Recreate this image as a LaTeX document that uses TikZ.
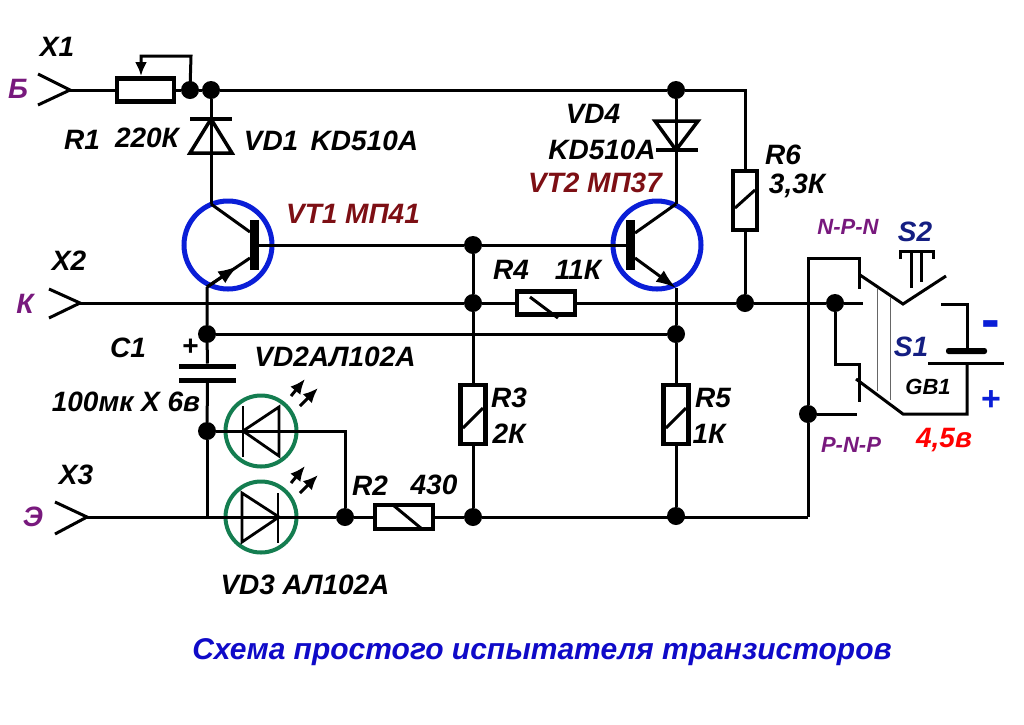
\documentclass[tikz,border=0pt]{standalone}
\usepackage{fontspec}
\setmainfont{Liberation Sans}
\usetikzlibrary{arrows.meta}
\definecolor{labpurple}{RGB}{120,25,125}
\definecolor{labred}{RGB}{125,15,20}
\definecolor{labnavy}{RGB}{20,30,130}
\definecolor{ringblue}{RGB}{10,30,215}
\definecolor{ringgreen}{RGB}{20,125,80}
\definecolor{titleblue}{RGB}{15,10,200}
\begin{document}
\begin{tikzpicture}[x=1pt, y=-1pt,
    wire/.style={line width=3pt},
    part/.style={line width=3.5pt, line join=miter},
    res/.style={draw, line width=4.5pt, fill=white, inner sep=0pt, outer sep=0pt},
    dot/.style={circle, fill=black, inner sep=0pt, minimum size=18pt},
    bar/.style={fill=black, inner sep=0pt, outer sep=0pt},
    ring/.style={circle, draw=ringblue, line width=5pt, inner sep=0pt, minimum size=88pt},
    led/.style={circle, draw=ringgreen, line width=4pt, inner sep=0pt, minimum size=71pt},
    tip/.style={line width=3pt, -{Latex[length=20pt, width=14pt]}},
    glow/.style={line width=3pt, -{Latex[length=15pt, width=13pt]}},
    lab/.style={font=\fontsize{28}{30}\selectfont\bfseries\itshape, inner sep=0pt},
    small/.style={font=\fontsize{22}{24}\selectfont\bfseries\itshape, inner sep=0pt},
    link/.style={line width=0.8pt, draw=black!60}]

\useasboundingbox (0,0) rectangle (1024,724);

% terminals
\coordinate (tipB) at (70,90);
\coordinate (tipK) at (80,303);
\coordinate (tipE) at (87,517);
\draw[wire] (38,74) -- (tipB) -- (38,105);
\draw[wire] (49,289) -- (tipK) -- (49,318);
\draw[wire] (55,502) -- (tipE) -- (55,534);

% resistors
\node[res, minimum width=57pt, minimum height=23pt] (Rone) at (145.5,90) {};
\node[res, minimum width=58pt, minimum height=24pt] (Rtwo) at (404,517) {};
\node[res, minimum width=25pt, minimum height=59pt] (Rthree) at (473,414.5) {};
\node[res, minimum width=58pt, minimum height=23pt] (Rfour) at (546,303) {};
\node[res, minimum width=25pt, minimum height=59pt] (Rfive) at (676,414.5) {};
\node[res, minimum width=24pt, minimum height=59pt] (Rsix) at (745,200.5) {};

% junctions
\node[dot] (dotwiper) at (190,90) {};
\node[dot] (dotB) at (211,90) {};
\node[dot] (dotVDfour) at (676,90) {};
\node[dot] (dotbase) at (473,245) {};
\node[dot] (dotKthree) at (473,303) {};
\node[dot] (dotKsix) at (745,303) {};
\node[dot] (dotC) at (207,334) {};
\node[dot] (dotCfive) at (676,334) {};
\node[dot] (dotL) at (207,431) {};
\node[dot] (dotR) at (345,517) {};
\node[dot] (dotEthree) at (473,517) {};
\node[dot] (dotEfive) at (676,516) {};
\node[dot] (dotN) at (835,303) {};
\node[dot] (dotP) at (808,414) {};

% transistors
\node[ring] (VTone) at (228,245) {};
\node[ring] (VTtwo) at (657,245) {};
\node[bar, minimum width=9pt, minimum height=50pt] (VTonebar) at (254.5,245) {};
\node[bar, minimum width=9pt, minimum height=50pt] (VTtwobar) at (630.5,245) {};
\coordinate (VToneC) at (211,204);
\coordinate (VToneE) at (207,287);
\coordinate (VToneb) at (250,258);
\coordinate (VTonea) at (250,232);
\coordinate (VTtwoC) at (676,204);
\coordinate (VTtwoE) at (676,288);
\coordinate (VTtwoa) at (635,233);
\coordinate (VTtwob) at (635,258);
\draw[wire] (VToneC) -- (VTonea);
\draw[wire] (VToneb) -- (VToneE);
\draw[tip] (VToneE) -- (238,266);
\draw[wire] (VTtwoa) -- (VTtwoC);
\draw[tip] (VTtwob) -- (VTtwoE);

% capacitor
\node[bar, minimum width=57pt, minimum height=5pt] (Cplus) at (207.5,366) {};
\node[bar, minimum width=57pt, minimum height=5pt] (Cminus) at (207.5,380) {};

% diodes
\coordinate (VDoneK) at (211,119);
\coordinate (VDfourK) at (676,150);
\draw[wire] (dotB) -- (VToneC);
\draw[part] (190,119) -- (232,119);
\draw[part] (190,153) -- (232,153) -- (VDoneK) -- cycle;
\draw[wire] (dotVDfour) -- (VTtwoC);
\draw[part] (656,150) -- (698,150);
\draw[part] (655,121) -- (698,121) -- (VDfourK) -- cycle;

% leds
\node[led] (VDtwo) at (261,431) {};
\node[led] (VDthree) at (261,517) {};
\coordinate (VDtwoA) at (243,431);
\coordinate (VDthreeK) at (279,517);
\draw[part, line width=2.8pt] (243,406) -- (243,457);
\draw[part, line width=2.8pt] (279,407) -- (279,456) -- (VDtwoA) -- cycle;
\draw[part, line width=2.8pt] (278,493) -- (278,543);
\draw[part, line width=2.8pt] (242,493) -- (242,542) -- (VDthreeK) -- cycle;
\foreach \i in {0,87} {
    \draw[glow] (291,396+\i) -- (305,379+\i);
    \draw[glow] (300,406+\i) -- (318,388+\i);
}

% wiring
\draw[wire] (tipB) -- (Rone);
\draw[wire] (Rone) -- (dotwiper) -- (dotB) -- (dotVDfour);
\draw[wire] (dotVDfour) -- (745,90) -- (Rsix.north);
\draw[wire] (Rsix.south) -- (dotKsix);
\draw[tip, -{Latex[length=14pt, width=12pt]}] (dotwiper.center) -- (191,56) -- (141,56) -- (141,76);
\draw[wire] (VTonebar) -- (dotbase) -- (VTtwobar);
\draw[wire] (tipK) -- (dotKthree) -- (Rfour);
\draw[wire] (Rfour) -- (dotKsix) -- (dotN) -- (863,303);
\draw[wire] (dotbase) -- (dotKthree) -- (Rthree.north);
\draw[wire] (Rthree.south) -- (dotEthree);
\draw[wire] (VToneE) -- (dotC) -- (Cplus);
\draw[wire] (dotC) -- (dotCfive);
\draw[wire] (VTtwoE) -- (dotCfive) -- (Rfive.north);
\draw[wire] (Rfive.south) -- (dotEfive);
\draw[wire] (Cminus) -- (dotL);
\draw[wire] (dotL) -- (207,517);
\draw[wire] (dotL) -- (345,431) -- (dotR);
\draw[wire] (tipE) -- (dotR) -- (Rtwo);
\draw[wire] (Rtwo) -- (dotEthree) -- (808,517);
\draw[wire] (808,517) -- (dotP) -- (808,258) -- (859,258) -- (859,289);
\draw[wire] (dotP) -- (857,414);
\draw[wire] (dotN) -- (835,364) -- (859,364) -- (859,402);

% slanted marks in the resistors
\draw[wire] (393,505) -- (422,529);
\draw[wire] (530,297) -- (558,318);
\draw[wire] (463,428) -- (483,408);
\draw[wire] (666,428) -- (686,408);
\draw[wire] (735,208) -- (755,190);

% switches and battery
\draw[wire] (860,275) -- (903,304) -- (946,276);
\draw[wire] (856,379) -- (903,414) -- (967,414) -- (967,363);
\draw[wire] (941,304) -- (967,304) -- (967,351);
\node[bar, rounded corners=2.5pt, minimum width=41pt, minimum height=6pt] (GBminus) at (966.5,351) {};
\node[bar, minimum width=76pt, minimum height=3pt] (GBplus) at (966,363) {};
\draw[link] (877,289) -- (877,391);
\draw[link] (890,297) -- (890,400);
\draw[wire] (900,259) -- (900,251) -- (933,251) -- (933,259);
\draw[wire] (911,251) -- (911,288);
\draw[wire] (921,251) -- (921,282);

% labels
\node[lab] (labXone) at (57,47) {X1};
\node[lab] (labXtwo) at (69,261) {X2};
\node[lab] (labXthree) at (76,475) {X3};
\node[lab, text=labpurple] (labB) at (18,89) {Б};
\node[lab, text=labpurple] (labK) at (25,304) {К};
\node[lab, text=labpurple] (labE) at (33,517) {Э};
\node[lab] (labRone) at (82,140) {R1};
\node[lab] (labRoneval) at (147,138) {220К};
\node[lab] (labVDone) at (331,141) {VD1\, KD510A};
\node[lab, text=labred] (labVTone) at (353,214) {VT1 МП41};
\node[lab] (labVDfour) at (593,114) {VD4};
\node[lab] (labVDfourval) at (602,150) {KD510A};
\node[lab, text=labred] (labVTtwo) at (595,183) {VT2 МП37};
\node[lab] (labRfour) at (511,270) {R4};
\node[lab] (labRfourval) at (578,270) {11К};
\node[lab] (labRsix) at (783,155) {R6};
\node[lab] (labRsixval) at (797,186) {3,3К};
\node[lab] (labCone) at (128,348) {C1};
\node[lab] (labCplus) at (190,347) {+};
\node[lab] (labCval) at (126,402) {100мк X 6в};
\node[lab] (labVDtwo) at (335,357) {VD2АЛ102А};
\node[lab] (labVDthree) at (305,585) {VD3 АЛ102А};
\node[lab] (labRtwo) at (370,486) {R2};
\node[lab] (labRtwoval) at (434,485) {430};
\node[lab] (labRthree) at (509,398) {R3};
\node[lab] (labRthreeval) at (509,434) {2К};
\node[lab] (labRfive) at (713,398) {R5};
\node[lab] (labRfiveval) at (709,434) {1К};
\node[small, text=labpurple] (labNPN) at (848,227) {N-P-N};
\node[small, text=labpurple] (labPNP) at (851,445) {P-N-P};
\node[lab, text=labnavy] (labStwo) at (915,232) {S2};
\node[lab, text=labnavy] (labSone) at (911,347) {S1};
\node[small] (labGB) at (928,387) {GB1};
\node[lab, text=red] (labvolt) at (944,440) {4,5в};
\node[font=\fontsize{56}{56}\selectfont\bfseries, text=ringblue, inner sep=0pt] (labminus) at (991,330) {-};
\node[font=\fontsize{34}{34}\selectfont\bfseries, text=ringblue, inner sep=0pt] (labplus) at (991,401) {+};
\node[lab, font=\fontsize{30}{32}\selectfont\bfseries\itshape, text=titleblue] (labtitle) at (542,652) {Схема простого испытателя транзисторов};

\end{tikzpicture}
\end{document}
